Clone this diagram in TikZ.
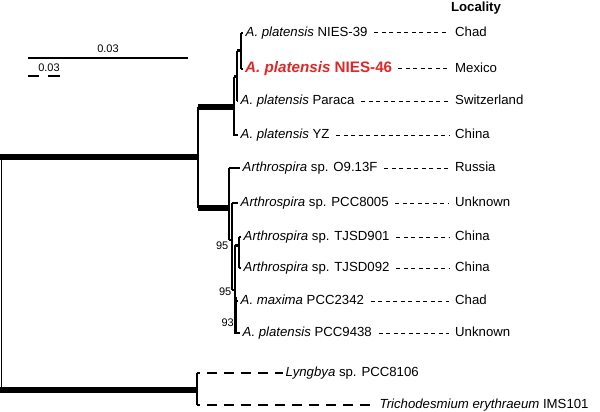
\documentclass[tikz,border=0pt]{standalone}
\usepackage{fontspec}
\setmainfont{Liberation Sans}
\usepackage{xcolor}
\usepackage{tikz}
\usetikzlibrary{positioning}
\definecolor{strainred}{RGB}{222,40,40}

\begin{document}
\begin{tikzpicture}[x=1pt, y=-1pt]
  \tikzstyle{leaf}=[anchor=west,inner sep=2.5pt,font=\fontsize{13.2}{15}\selectfont,text height=9.5pt,text depth=2.5pt]
  \tikzstyle{loc}=[anchor=west,inner sep=0pt,font=\fontsize{13.2}{15}\selectfont,text height=9.5pt,text depth=2.5pt]
  \tikzstyle{boot}=[anchor=east,inner sep=0.5pt,font=\fontsize{11}{13}\selectfont]
  \tikzstyle{br}=[line width=1.4pt]
  \tikzstyle{stem}=[line width=6pt]
  \tikzstyle{leader}=[line width=1pt,dash pattern=on 4pt off 3.5pt,shorten <=4pt,shorten >=6pt]
  \tikzstyle{ogbr}=[line width=2pt,dash pattern=on 3pt off 7pt on 10pt off 7pt on 10pt off 7pt on 10pt off 7pt on 10pt off 7pt on 10pt off 7pt on 10pt off 7pt on 10pt off 7pt on 10pt off 7pt on 10pt off 7pt on 10pt off 7pt]
  \useasboundingbox (0,0) rectangle (600,412);

  % scale bars
  \draw[line width=2pt] (28,58) -- (188,58) node[midway,above=1pt,font=\fontsize{11}{13}\selectfont] {0.03};
  \draw[line width=2pt] (28,76) -- (39,76);
  \draw[line width=2pt] (48,76) -- (60,76);
  \node[font=\fontsize{11}{13}\selectfont] (sbtxt) at (49,68) {0.03};

  % leaves
  \node[leaf] (n39) at (243,33) {\textit{A. platensis} NIES-39};
  \node[leaf,inner sep=2pt,text=strainred,font=\fontsize{15.2}{17}\selectfont\bfseries] (n46) at (243,69) {\textit{A. platensis} NIES-46};
  \node[leaf] (paraca) at (238,101) {\textit{A. platensis} Paraca};
  \node[leaf] (yz) at (238,135) {\textit{A. platensis} YZ};
  \node[leaf] (o913) at (240,168) {\textit{Arthrospira} sp. O9.13F};
  \node[leaf] (p8005) at (238,203) {\textit{Arthrospira} sp. PCC8005};
  \node[leaf] (t901) at (241,237) {\textit{Arthrospira} sp. TJSD901};
  \node[leaf] (t092) at (241,268) {\textit{Arthrospira} sp. TJSD092};
  \node[leaf] (p2342) at (238,301) {\textit{A. maxima} PCC2342};
  \node[leaf] (p9438) at (240,333) {\textit{A. platensis} PCC9438};
  \node[leaf] (lyng) at (283,373) {\textit{Lyngbya} sp. PCC8106};
  \node[leaf] (tricho) at (377,405) {\textit{Trichodesmium erythraeum} IMS101};

  % locality column
  \node[font=\fontsize{13.2}{15}\selectfont\bfseries] (lochead) at (476,8) {Locality};
  \node[loc] (l39) at (455,33) {Chad};
  \node[loc] (l46) at (455,69) {Mexico};
  \node[loc] (lparaca) at (455,101) {Switzerland};
  \node[loc] (lyz) at (455,135) {China};
  \node[loc] (lo913) at (455,168) {Russia};
  \node[loc] (lp8005) at (455,203) {Unknown};
  \node[loc] (lt901) at (455,237) {China};
  \node[loc] (lt092) at (455,268) {China};
  \node[loc] (lp2342) at (455,301) {Chad};
  \node[loc] (lp9438) at (455,333) {Unknown};

  \foreach \s/\l in {n39/l39,n46/l46,paraca/lparaca,yz/lyz,o913/lo913,p8005/lp8005,t901/lt901,t092/lt092,p2342/lp2342,p9438/lp9438}
    \draw[leader] (\s.east) -- (\s.east -| \l.west);

  % internal nodes
  \coordinate (rtop) at (0,157);
  \coordinate (rbot) at (0,390);
  \coordinate (ing) at (198,157);
  \coordinate (outg) at (197,390);
  \coordinate (cu) at (234,107);
  \coordinate (cl) at (229,208);
  \coordinate (v) at (237,77);
  \coordinate (w) at (241,51);
  \coordinate (b) at (232,240);
  \coordinate (c) at (235,290);
  \coordinate (d) at (239,245);
  \coordinate (e) at (235.5,297);

  % root
  \draw[br] ([xshift=1.5pt]rtop) -- ([xshift=1.5pt]rbot);
  \draw[stem] (rtop) -- (ing);
  \draw[stem] (rbot) -- (outg);
  \draw[br] (ing |- cu) -- (ing |- cl);
  \draw[stem] (ing |- cu) -- (cu);
  \draw[stem] (ing |- cl) -- (cl);

  % upper clade
  \draw[br] (cu |- v) -- (cu |- yz.west) -- (yz.west);
  \draw[line width=3pt] (cu |- v) -- (v);
  \draw[line width=2.5pt] (v |- w) -- (v |- paraca.west);
  \draw[br] (v |- paraca.west) -- (paraca.west);
  \draw[line width=3pt] (v |- w) -- (w);
  \draw[line width=2pt] (w |- n39.west) -- (w |- n46.west);
  \draw[br] (w |- n39.west) -- (n39.west);
  \draw[br] (w |- n46.west) -- (n46.west);

  % lower clade
  \draw[br] (cl |- o913.west) -- (cl |- b);
  \draw[br] (cl |- o913.west) -- (o913.west);
  \draw[br] (cl |- b) -- (b);
  \draw[br] (b |- p8005.west) -- (b |- c);
  \draw[br] (b |- p8005.west) -- (p8005.west);
  \draw[br] (b |- c) -- (c);
  \draw[br] (c |- d) -- (c |- p9438.west) -- (p9438.west);
  \draw[line width=3pt] (e) -- (e |- p9438.west);
  \draw[br] (c |- p2342.west) -- (p2342.west);
  \draw[line width=3pt] (c |- d) -- (d);
  \draw[line width=2pt] (d |- t901.west) -- (d |- t092.west);
  \draw[br] (d |- t901.west) -- (t901.west);
  \draw[br] (d |- t092.west) -- (t092.west);

  % bootstrap values
  \node[boot] (bs1) at (229,246) {95};
  \node[boot] (bs2) at (232,292) {95};
  \node[boot] (bs3) at (234.5,323) {93};

  % outgroup
  \draw[br] (outg |- lyng.west) -- (outg |- tricho.west);
  \draw[ogbr] (outg |- lyng.west) -- (lyng.west);
  \draw[ogbr] (outg |- tricho.west) -- (tricho.west);
\end{tikzpicture}
\end{document}
